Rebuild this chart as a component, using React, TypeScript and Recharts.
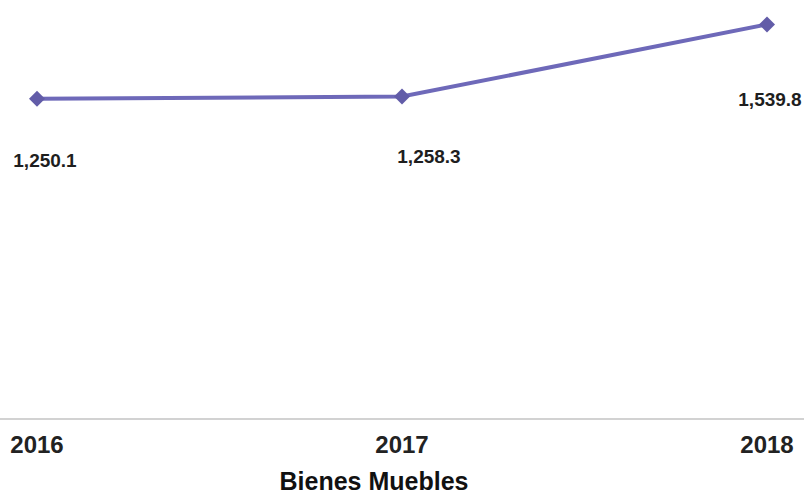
import { LineChart, Line, XAxis, YAxis, LabelList } from "recharts"

const years = ["2016", "2017", "2018"]
const values = [1250.1, 1258.3, 1539.8]
const axisTitle = "Bienes Muebles"

const data = years.map((year, i) => ({ year, value: values[i] }))

const lineColor = "#6e69b9"

// per-point offsets of the value labels, as in the original
const labelShift = [
  { dx: 8, dy: 68 },
  { dx: 27, dy: 66 },
  { dx: 3, dy: 82 },
]

const fmt = (v: number) =>
  v.toLocaleString("en-US", { minimumFractionDigits: 1, maximumFractionDigits: 1 })

const Diamond = (props: any) => {
  const { cx, cy } = props
  if (cx == null || cy == null) return null
  const r = 8
  return (
    <path
      d={`M${cx},${cy - r} L${cx + r},${cy} L${cx},${cy + r} L${cx - r},${cy} Z`}
      fill="#625ca8"
      stroke="none"
    />
  )
}

const ValueLabel = (props: any) => {
  const { x, y, value, index } = props
  const s = labelShift[index] || { dx: 0, dy: 60 }
  return (
    <text
      x={x + s.dx}
      y={y + s.dy}
      textAnchor="middle"
      fontFamily="Liberation Sans, Arial, sans-serif"
      fontSize={19}
      fontWeight={700}
      fill="#1e1e1e"
    >
      {fmt(value)}
    </text>
  )
}

const TitleLabel = (props: any) => {
  const { viewBox } = props
  const cx = viewBox.x + viewBox.width / 2 - 28
  return (
    <text
      x={cx}
      y={viewBox.y + 71}
      textAnchor="middle"
      fontFamily="Liberation Sans, Arial, sans-serif"
      fontSize={25}
      fontWeight={700}
      fill="#111"
    >
      {axisTitle}
    </text>
  )
}

export default function App() {
  return (
    <div style={{ position: "absolute", left: 0, top: 0, width: 804, height: 494, background: "#fff" }}>
      <LineChart width={804} height={494} data={data} margin={{ top: 0, right: 0, bottom: 0, left: 0 }}>
        <XAxis
          dataKey="year"
          padding={{ left: 37, right: 37 }}
          height={75}
          axisLine={{ stroke: "#d2d2d2", strokeWidth: 2 }}
          tickLine={false}
          tick={{
            fontFamily: "Liberation Sans Narrow, Arial Narrow, sans-serif",
            fontSize: 24,
            fontWeight: 700,
            fill: "#222",
          }}
          tickMargin={11}
          label={<TitleLabel />}
        />
        <YAxis hide domain={[0, 1635]} />
        <Line
          type="linear"
          dataKey="value"
          stroke={lineColor}
          strokeWidth={4}
          dot={<Diamond />}
          activeDot={false}
          isAnimationActive={false}
        >
          <LabelList dataKey="value" content={<ValueLabel />} />
        </Line>
      </LineChart>
    </div>
  )
}
